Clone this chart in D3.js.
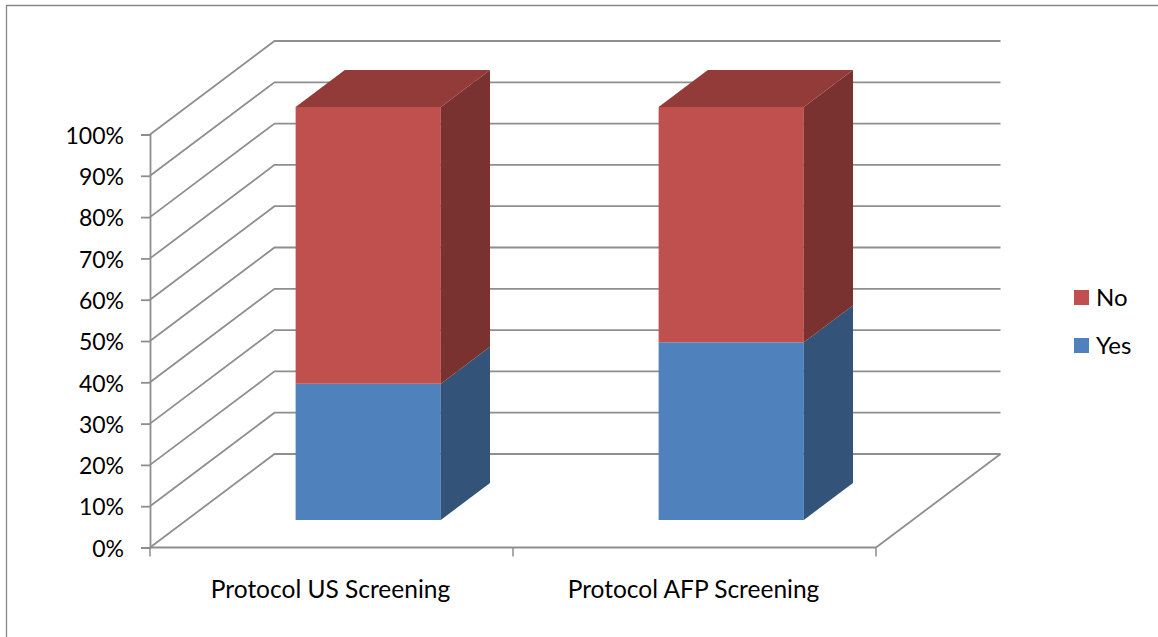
<!DOCTYPE html>
<html>
<head>
<meta charset="utf-8">
<script src="https://cdn.jsdelivr.net/npm/d3@7"></script>
<style>
	html, body { margin: 0; padding: 0; background: #fff; overflow: hidden; }
	svg { display: block; }
	text { font-family: Lato, "Open Sans", sans-serif; fill: #000; }
</style>
</head>
<body>
<div id="graph"></div>
<script>
var categories = ['Protocol US Screening', 'Protocol AFP Screening'];
var seriesNames = ['Yes', 'No'];
var yesValues = [33, 43];
var noValues = [67, 57];
var percentTicks = [0, 10, 20, 30, 40, 50, 60, 70, 80, 90, 100];
var legendOrder = ['No', 'Yes'];

var graphWidth = 1158;
var graphHeight = 637;
var lineColor = '#8e8e8e';
var colors = {
	Yes: { front: '#4f81bd', side: '#335379' },
	No: { front: '#c0504d', side: '#7a3230', top: '#933b38' }
};

// 3d box: depth 0 is the front of the floor, depth 1 the back wall
var depthX = 124.5;
var depthY = 93.5;
var barFrontDepth = 0.295;
var barBackDepth = 0.69;

var svg = d3.select('#graph').append('svg').attr('width', graphWidth).attr('height', graphHeight);

var x = d3.scaleBand().domain(categories).range([150, 876]).paddingInner(0.6).paddingOuter(0.3);
var y = d3.scaleLinear().domain([0, 100]).range([547.5, 134.5]);

function project(px, value, depth) {
	return [px + depthX * depth, y(value) - depthY * depth];
}

function polygon(points) {
	return points.map(function(p) { return p.join(','); }).join(' ');
}

// outer frame, only top and left show in the picture
svg.append('path')
	.attr('d', 'M6.5,637V5.5H1158')
	.attr('fill', 'none')
	.attr('stroke', '#868686')
	.attr('stroke-width', 1.3);

// walls
var grid = svg.append('g').attr('fill', 'none').attr('stroke', lineColor).attr('stroke-width', 1.8);

grid.selectAll('polyline').data(percentTicks).enter().append('polyline')
	.attr('points', function(d) {
		return polygon([project(150, d, 0), project(150, d, 1), project(876, d, 1)]);
	});

// floor edge on the right
grid.append('polyline')
	.attr('points', polygon([project(876, 0, 0), project(876, 0, 1)]));

// axes
var yAxis = d3.axisLeft(y).tickValues(percentTicks).tickSize(9).tickPadding(17)
	.tickFormat(function(d) { return d + '%'; });

var yAxisG = svg.append('g').attr('transform', 'translate(150,0)').call(yAxis);
yAxisG.selectAll('path, line').attr('stroke', lineColor).attr('stroke-width', 1.8);
yAxisG.selectAll('text').attr('font-size', 23).attr('dy', '0.38em');

var xAxis = d3.axisBottom(x).tickSize(0).tickPadding(30);
var xAxisG = svg.append('g').attr('transform', 'translate(0,' + y(0) + ')').call(xAxis);
xAxisG.select('path').remove();
xAxisG.selectAll('text').attr('font-size', 24.5).attr('dy', '0.85em').attr('dx', -1);

svg.append('line')
	.attr('x1', 150).attr('x2', 876)
	.attr('y1', y(0)).attr('y2', y(0))
	.attr('stroke', lineColor).attr('stroke-width', 1.8);

svg.selectAll('.cat-tick').data([150, 513, 876]).enter().append('line')
	.attr('class', 'cat-tick')
	.attr('x1', function(d) { return d; }).attr('x2', function(d) { return d; })
	.attr('y1', y(0)).attr('y2', y(0) + 9)
	.attr('stroke', lineColor).attr('stroke-width', 1.5);

// stacked bars
var rows = categories.map(function(c, i) {
	return { category: c, Yes: yesValues[i], No: noValues[i] };
});
var stacked = d3.stack().keys(seriesNames)(rows);

var layers = svg.selectAll('.layer').data(stacked).enter().append('g').attr('class', 'layer');

layers.each(function(layer) {
	var g = d3.select(this);
	var c = colors[layer.key];
	layer.forEach(function(d) {
		var left = x(d.data.category);
		var right = left + x.bandwidth();

		g.append('polygon').attr('fill', c.front).attr('points', polygon([
			project(left, d[0], barFrontDepth), project(right, d[0], barFrontDepth),
			project(right, d[1], barFrontDepth), project(left, d[1], barFrontDepth)
		]));
		g.append('polygon').attr('fill', c.side).attr('points', polygon([
			project(right, d[0], barFrontDepth), project(right, d[0], barBackDepth),
			project(right, d[1], barBackDepth), project(right, d[1], barFrontDepth)
		]));
		if (c.top) {
			g.append('polygon').attr('fill', c.top).attr('points', polygon([
				project(left, d[1], barFrontDepth), project(right, d[1], barFrontDepth),
				project(right, d[1], barBackDepth), project(left, d[1], barBackDepth)
			]));
		}
	});
});

// legend
var legendY = d3.scalePoint().domain(legendOrder).range([297.5, 345.5]);
var legend = svg.selectAll('.legend').data(legendOrder).enter().append('g')
	.attr('class', 'legend')
	.attr('transform', function(d) { return 'translate(1074,' + legendY(d) + ')'; });

legend.append('rect')
	.attr('y', -7.5).attr('width', 15).attr('height', 15)
	.attr('fill', function(d) { return colors[d].front; });

legend.append('text')
	.attr('x', 22).attr('dy', '0.36em')
	.attr('font-size', 24)
	.text(function(d) { return d; });
</script>
</body>
</html>
